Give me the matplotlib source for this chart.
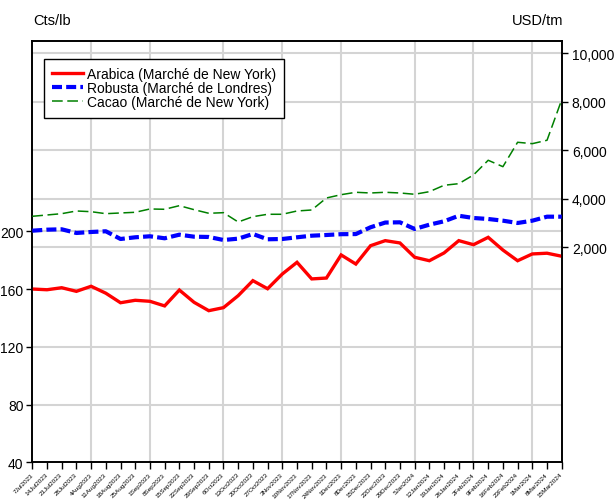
import matplotlib
matplotlib.use('Agg')
import matplotlib.pyplot as plt
import matplotlib.transforms as mtransforms

# weekly dates (Friday closes)
dates = ['7Jul2023', '14Jul2023', '21Jul2023', '28Jul2023', '4Aug2023', '11Aug2023',
         '18Aug2023', '25Aug2023', '1Sep2023', '8Sep2023', '15Sep2023', '22Sep2023',
         '29Sep2023', '6Oct2023', '13Oct2023', '20Oct2023', '27Oct2023', '3Nov2023',
         '10Nov2023', '17Nov2023', '24Nov2023', '1Dec2023', '8Dec2023', '15Dec2023',
         '22Dec2023', '29Dec2023', '5Jan2024', '12Jan2024', '19Jan2024', '26Jan2024',
         '2Feb2024', '9Feb2024', '16Feb2024', '23Feb2024', '1Mar2024', '8Mar2024',
         '15Mar2024']

# Arabica, cts/lb (left axis)
arabica = [160.0, 159.5, 160.9, 158.4, 161.9, 157.1, 150.5, 152.2, 151.5, 148.3,
           159.3, 150.8, 145.0, 147.1, 155.4, 165.8, 160.2, 170.4, 178.5, 167.0,
           167.6, 183.6, 177.3, 190.0, 193.5, 191.9, 182.0, 179.6, 185.0, 193.5,
           190.7, 195.8, 187.0, 179.6, 184.3, 184.8, 182.7]

# Robusta, USD/tm (right axis)
robusta = [2684, 2726, 2742, 2590, 2631, 2660, 2342, 2412, 2454, 2371,
           2520, 2437, 2425, 2301, 2355, 2548, 2330, 2342, 2412, 2478,
           2507, 2540, 2545, 2825, 3020, 3030, 2755, 2932, 3072, 3300,
           3208, 3167, 3097, 3002, 3097, 3262, 3262]

# Cacao, USD/tm (right axis)
cacao = [3278, 3332, 3386, 3497, 3468, 3386, 3415, 3443, 3580, 3567,
         3716, 3551, 3402, 3427, 3043, 3262, 3361, 3361, 3497, 3538,
         4033, 4169, 4268, 4239, 4268, 4239, 4186, 4293, 4557, 4623,
         4982, 5588, 5324, 6330, 6273, 6413, 8087]

left_ticks = [40, 80, 120, 160, 200]
right_ticks = [2000, 4000, 6000, 8000, 10000]
right_labels = ['2,000', '4,000', '6,000', '8,000', '10,000']
# first week of each month -> vertical grid
month_starts = [4, 8, 13, 17, 21, 26, 30, 34]

plt.rcParams['font.family'] = ['Liberation Sans', 'DejaVu Sans']

fig = plt.figure(figsize=(6.16, 5.02), dpi=100)
ax1 = fig.add_axes([0.0524, 0.0771, 0.8595, 0.8399])
ax2 = ax1.twinx()

x = list(range(len(dates)))
grid_col = '#d4d4d4'

# grid on the bottom axes so the series sit over it
for m in month_starts:
    ax1.axvline(m, color=grid_col, lw=1.5, zorder=0)
for v in left_ticks[1:]:
    ax1.axhline(v, color=grid_col, lw=1.5, zorder=0)
tr = mtransforms.blended_transform_factory(ax1.transAxes, ax2.transData)
for v in right_ticks:
    ax1.plot([0, 1], [v, v], transform=tr, color=grid_col, lw=1.5, zorder=0)

l1, = ax1.plot(x, arabica, color='#ff0000', lw=2.4, solid_joinstyle='miter', zorder=3)
l2, = ax2.plot(x, robusta, color='#0000ff', lw=3.0, dashes=(2.4, 1.0), zorder=3)
l3, = ax2.plot(x, cacao, color='#008000', lw=1.1, dashes=(7, 3), zorder=3)

ax1.set_xlim(0, len(dates) - 1)
ax1.set_ylim(40, 332)
ax2.set_ylim(-6866, 10520)

ax1.set_yticks(left_ticks)
ax1.set_yticklabels([str(v) for v in left_ticks], fontsize=10)
ax2.set_yticks(right_ticks)
ax2.set_yticklabels(right_labels, fontsize=10)
ax1.tick_params(axis='y', direction='out', length=4.3, width=1, pad=2)
ax2.tick_params(axis='y', direction='out', length=4.3, width=1, pad=3)

ax1.set_xticks(x)
ax1.set_xticklabels(dates, fontsize=4.6, rotation=45, ha='right', va='center',
                    rotation_mode='anchor')
ax1.tick_params(axis='x', direction='out', length=5, width=1, pad=3)

for ax in (ax1, ax2):
    for s in ax.spines.values():
        s.set_linewidth(1.2)
        s.set_color('black')

fig.text(0.054, 0.958, 'Cts/lb', fontsize=10.5, ha='left', va='center')
fig.text(0.914, 0.958, 'USD/tm', fontsize=10.5, ha='right', va='center')

leg = ax2.legend([l1, l2, l3],
                 ['Arabica (Marché de New York)', 'Robusta (Marché de Londres)',
                  'Cacao (Marché de New York)'],
                 loc='upper left', bbox_to_anchor=(0.0221, 0.9566), fontsize=10,
                 frameon=True, fancybox=False, edgecolor='black', framealpha=1,
                 handlelength=2.2, handletextpad=0.3, labelspacing=0.0,
                 borderpad=0.6, borderaxespad=0)
leg.get_frame().set_linewidth(1.0)

fig.savefig('out.png', dpi=100)
